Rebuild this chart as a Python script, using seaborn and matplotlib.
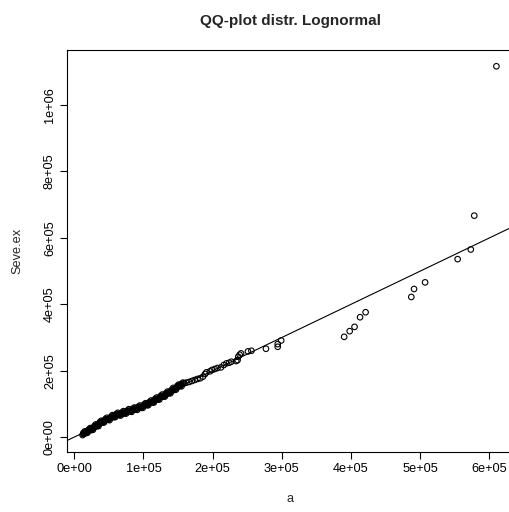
import matplotlib
matplotlib.use("Agg")
import matplotlib.pyplot as plt
import seaborn as sns
import pandas as pd

# Theoretical lognormal quantiles (a) and sample values (Seve.ex), in thousands
a_k = [12, 13, 14, 15, 16, 18, 19, 20, 22, 23, 25, 26, 28, 29, 31, 32, 34, 36, 37, 39,
       40, 42, 44, 46, 48, 50, 52, 54, 56, 58, 60, 62, 64, 66, 68, 70, 72, 74, 76, 78,
       80, 82, 84, 86, 88, 90, 92, 94, 96, 98, 100, 102, 104, 106, 108, 110, 112, 114,
       116, 118, 120, 122, 124, 126, 128, 130, 132, 134, 136, 138, 140, 142, 144, 146,
       148, 150, 152, 154, 156, 159, 162, 166, 170, 174, 178, 182, 186, 189, 191, 196,
       199, 203, 207, 212, 216, 220, 224, 227, 234, 236, 237, 239, 241, 251, 256, 277,
       294, 294, 299, 390, 398, 405, 413, 421, 487, 491, 507, 554, 573, 578, 610]
seve_k = [6, 9, 10, 12, 14, 16, 18, 19, 21, 23, 24, 26, 28, 30, 33, 35, 37, 40, 42, 44,
          46, 48, 50, 52, 54, 55, 57, 60, 62, 64, 66, 67, 68, 69, 70, 72, 73, 75, 76, 78,
          79, 80, 82, 83, 85, 86, 88, 89, 90, 92, 94, 96, 98, 100, 102, 104, 106, 108,
          110, 113, 115, 117, 120, 122, 124, 126, 128, 131, 133, 136, 138, 141, 144, 146,
          149, 152, 155, 158, 160, 162, 164, 166, 169, 172, 175, 177, 182, 190, 195, 198,
          202, 205, 208, 210, 217, 222, 224, 227, 229, 232, 242, 248, 252, 258, 260, 266,
          272, 280, 291, 302, 319, 332, 361, 376, 422, 446, 466, 536, 565, 667, 1117]

# extra points filling the dense band (edges of the band), in thousands
a_band_k = [15, 23, 31, 39, 47, 55, 63, 71, 79, 87, 95, 103, 111, 119, 127, 135, 143, 151,
            19, 27, 35, 43, 51, 59, 67, 75, 83, 91, 99, 107, 115, 123, 131, 139, 147, 155,
            13, 17, 21, 25, 29, 33, 37, 41, 45, 49, 53, 57, 61, 65, 69, 73, 77, 81, 85,
            89, 93, 97, 101, 105, 109, 113, 117, 121, 125, 129, 133, 137, 141, 145, 149,
            153, 157]
seve_band_k = [17, 27, 38, 49, 58, 66, 73, 78, 84, 89, 95, 102, 110, 119, 128, 137, 148, 158,
               13, 22, 33, 44, 51, 60, 65, 71, 76, 82, 88, 96, 104, 113, 122, 132, 143, 153,
               12, 12, 23, 21, 33, 33, 45, 44, 54, 52, 61, 60, 70, 66, 74, 71, 80, 77, 86,
               83, 92, 88, 98, 96, 106, 104, 115, 113, 124, 122, 133, 132, 143, 142, 154,
               154, 164]

a = [v * 1000 for v in a_k + a_band_k]
seve = [v * 1000 for v in seve_k + seve_band_k]
df = pd.DataFrame({"a": a, "Seve.ex": seve})

sns.set_style("ticks")
plt.rcParams["font.family"] = ["Liberation Sans", "DejaVu Sans"]

W, H = 509, 512
fig = plt.figure(figsize=(W / 100, H / 100), dpi=100)
ax = fig.add_axes([67 / W, (H - 452) / H, 446 / W, 402 / H])

sns.scatterplot(data=df, x="a", y="Seve.ex", ax=ax, marker="o", s=16,
                facecolor="none", edgecolor="black", linewidth=0.8, legend=False)
ax.axline((0, 0), slope=1, color="black", linewidth=0.8)

ax.set_xlim(-10500, 634000)
ax.set_ylim(-45000, 1166000)

xt = [0, 100000, 200000, 300000, 400000, 500000, 600000]
xl = ["0e+00", "1e+05", "2e+05", "3e+05", "4e+05", "5e+05", "6e+05"]
yt = [0, 200000, 400000, 600000, 800000, 1000000]
yl = ["0e+00", "2e+05", "4e+05", "6e+05", "8e+05", "1e+06"]
ax.set_xticks(xt)
ax.set_xticklabels(xl)
ax.set_yticks(yt)
ax.set_yticklabels(yl, rotation=90, va="center")
ax.tick_params(axis="both", direction="out", length=5, width=0.8, pad=3,
               labelsize=9.2, colors="black")

for sp in ax.spines.values():
    sp.set_visible(True)
    sp.set_color("black")
    sp.set_linewidth(0.8)

ax.set_xlabel("a", fontsize=9.2)
ax.set_ylabel("Seve.ex", fontsize=9.2)
ax.xaxis.set_label_coords(0.5, -47 / 402)
ax.xaxis.label.set_va("center")
ax.yaxis.set_label_coords(-50 / 446, 0.5)
ax.yaxis.label.set_va("center")

ax.set_title("QQ-plot distr. Lognormal", fontsize=11, fontweight="bold", pad=18)
ax.grid(False)

fig.savefig("out.png", dpi=100)
